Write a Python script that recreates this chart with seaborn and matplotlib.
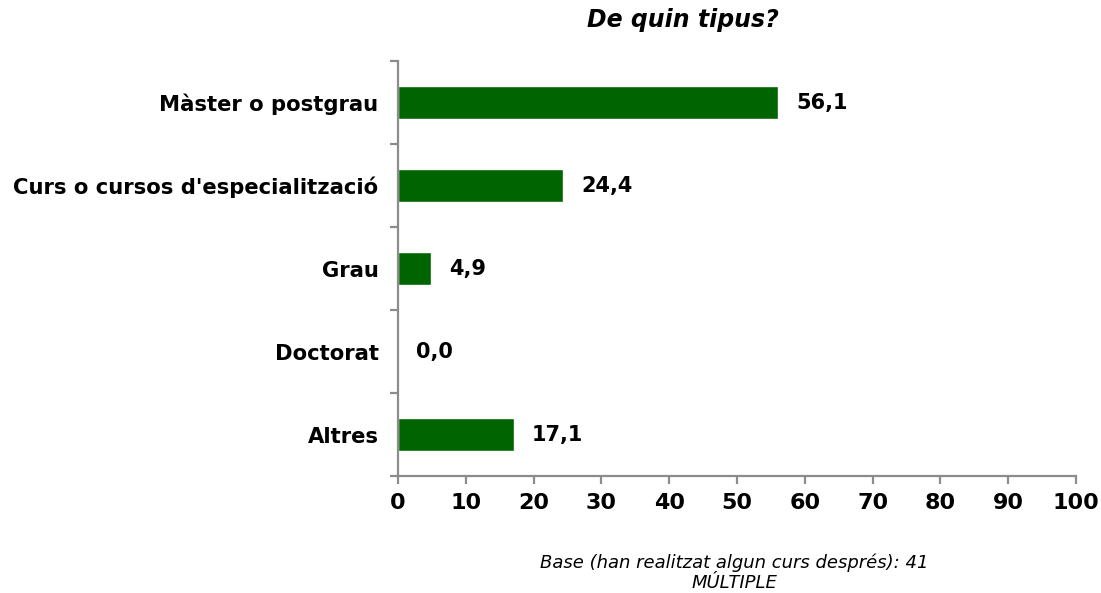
import matplotlib
matplotlib.use("Agg")
import matplotlib.pyplot as plt
from matplotlib.ticker import FixedLocator
import seaborn as sns
import pandas as pd

categories = ["Màster o postgrau", "Curs o cursos d'especialització", "Grau", "Doctorat", "Altres"]
values = [56.1, 24.4, 4.9, 0.0, 17.1]
x_ticks = [0, 10, 20, 30, 40, 50, 60, 70, 80, 90, 100]

df = pd.DataFrame({"categoria": categories, "percentatge": values})

sns.set_style("white")
plt.rcParams["font.family"] = ["DejaVu Sans"]
plt.rcParams["text.color"] = "black"
plt.rcParams["xtick.color"] = "black"
plt.rcParams["ytick.color"] = "black"

fig = plt.figure(figsize=(11.01, 5.93), dpi=100)
ax = fig.add_axes([0.3615, 0.1973, 0.6158, 0.6998])

green = "#006400"
sns.barplot(data=df, x="percentatge", y="categoria", orient="h", color=green,
            width=0.4, saturation=1, ax=ax)

ax.set_xlim(0, 100)
ax.set_ylim(4.5, -0.5)
ax.set_xlabel("")
ax.set_ylabel("")

axis_col = "#8c8c8c"
for side in ("top", "right"):
    ax.spines[side].set_visible(False)
for side in ("left", "bottom"):
    ax.spines[side].set_color(axis_col)
    ax.spines[side].set_linewidth(1.6)

ax.xaxis.set_major_locator(FixedLocator(x_ticks))
ax.set_xticklabels([str(t) for t in x_ticks], fontsize=16, fontweight="bold")
ax.tick_params(axis="x", which="major", direction="out", length=6, width=1.6,
               color=axis_col, labelcolor="black", pad=6, bottom=True)

# category labels without marks; marks sit on the band boundaries
ax.set_yticks(range(len(categories)))
ax.set_yticklabels(categories, fontsize=15.2, fontweight="bold")
ax.tick_params(axis="y", which="major", length=0, pad=14, left=False,
               labelcolor="black")
ax.yaxis.set_minor_locator(FixedLocator([i - 0.5 for i in range(len(categories) + 1)]))
ax.tick_params(axis="y", which="minor", direction="out", length=6, width=1.6,
               color=axis_col, left=True)

for i, v in enumerate(values):
    ax.annotate(f"{v:.1f}".replace(".", ","), xy=(v, i), xytext=(13, 0),
                textcoords="offset points", va="center", ha="left",
                fontsize=15, fontweight="bold", color="black")

fig.text(0.620, 0.966, "De quin tipus?", ha="center", va="center",
         fontsize=17, fontweight="bold", fontstyle="italic", color="black")
fig.text(0.667, 0.034, "Base (han realitzat algun curs després): 41\nMÚLTIPLE",
         ha="center", va="center", fontsize=13, fontstyle="italic",
         linespacing=1.2, color="black")

fig.savefig("out.png", dpi=100)
